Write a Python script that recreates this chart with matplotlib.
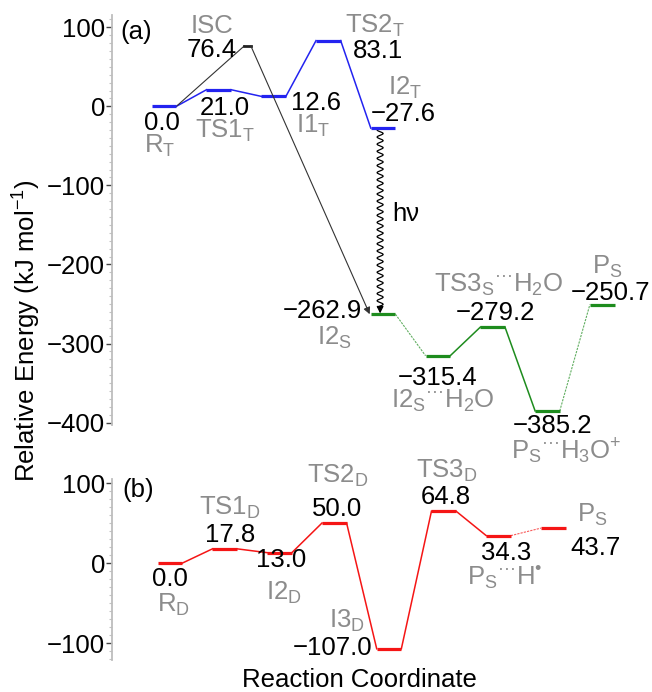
import numpy as np
import matplotlib
matplotlib.use("Agg")
import matplotlib.pyplot as plt
from matplotlib.ticker import MultipleLocator

plt.rcParams['font.family'] = ['Liberation Sans', 'DejaVu Sans']
plt.rcParams['mathtext.fontset'] = 'custom'
plt.rcParams['mathtext.rm'] = 'Liberation Sans'
plt.rcParams['mathtext.it'] = 'Liberation Sans:italic'
plt.rcParams['font.size'] = 18.5

# ---- data ----
# (a) triplet surface (blue), positions 0..4
trip_vals = [0.0, 21.0, 12.6, 83.1, -27.6]
trip_names = [r'R$_\mathregular{T}$', r'TS1$_\mathregular{T}$', r'I1$_\mathregular{T}$',
              r'TS2$_\mathregular{T}$', r'I2$_\mathregular{T}$']
# crossing point
isc_pos = 1.525
isc_val = 76.4
# (a) singlet surface (green), positions 4..8
sing_vals = [-262.9, -315.4, -279.2, -385.2, -250.7]
sing_names = [r'I2$_\mathregular{S}$',
              r'I2$_\mathregular{S}$$^\mathregular{···}$H$_\mathregular{2}$O',
              r'TS3$_\mathregular{S}$$^\mathregular{···}$H$_\mathregular{2}$O',
              r'P$_\mathregular{S}$$^\mathregular{···}$H$_\mathregular{3}$O$^\mathregular{+}$',
              r'P$_\mathregular{S}$']
sing_dashed = [True, False, False, True]
# (b) doublet surface (red), positions 0..7
doub_vals = [0.0, 17.8, 13.0, 50.0, -107.0, 64.8, 34.3, 43.7]
doub_names = [r'R$_\mathregular{D}$', r'TS1$_\mathregular{D}$', r'I2$_\mathregular{D}$',
              r'TS2$_\mathregular{D}$', r'I3$_\mathregular{D}$', r'TS3$_\mathregular{D}$',
              r'P$_\mathregular{S}$$^\mathregular{···}$H$^\mathregular{•}$', r'P$_\mathregular{S}$']
doub_dashed = [False, False, False, False, False, False, True]

# label offsets in pixels: (value dx, value dy, value ha, name dx, name dy, name ha)
trip_off = [(-2, -23.5, 'center', -4, -46.5, 'center'),
            (6, -25, 'center', 6, -48, 'center'),
            (42, -13.5, 'center', 40, -36.5, 'center'),
            (50, -17, 'center', 47, 8, 'center'),
            (20, 7, 'center', 22, 33, 'center')]
sing_off = [(-21, -3.5, 'right', -49, -30.5, 'center'),
            (0, -29, 'center', 5, -52, 'center'),
            (2.5, 7, 'center', 6.5, 35, 'center'),
            (5, -22, 'center', 19, -48, 'center'),
            (8, 5, 'center', 5, 31, 'center')]
doub_off = [(0, -23, 'center', 3, -49, 'center'),
            (5, 7, 'center', 5, 34, 'center'),
            (1.5, -14.5, 'center', 4.5, -47.5, 'center'),
            (3, 7, 'center', 4, 40, 'center'),
            (-17, -6.4, 'right', -42, 20.6, 'center'),
            (2, 7, 'center', 3, 33, 'center'),
            (7.5, -24.5, 'center', 6.5, -49.5, 'center'),
            (42, -27, 'center', 39, 6, 'center')]

GRAY = '#8c8c8c'
BLUE = '#2323f0'
GREEN = '#1e8c1e'
RED = '#f51515'
HW = 0.225  # half width of a level


def fmt(v):
    return f"{v:.1f}".replace('-', '\u2212')


def draw_path(ax, xs, vals, color, dashed):
    for i, (x, v) in enumerate(zip(xs, vals)):
        ax.plot([x - HW, x + HW], [v, v], color=color, lw=2.3, solid_capstyle='butt', zorder=3)
        if i < len(vals) - 1:
            if dashed[i]:
                ax.plot([x + HW, xs[i + 1] - HW], [v, vals[i + 1]], color=color, lw=0.8,
                        alpha=0.7, linestyle=(0, (2, 1)), zorder=2)
            else:
                ax.plot([x + HW, xs[i + 1] - HW], [v, vals[i + 1]], color=color, lw=1.1, zorder=2)


def label_path(ax, xs, vals, names, offs):
    for x, v, n, o in zip(xs, vals, names, offs):
        ax.annotate(fmt(v), (x, v), xytext=(o[0], o[1]), textcoords='offset pixels',
                    ha=o[2], va='baseline', color='black', annotation_clip=False)
        ax.annotate(n, (x, v), xytext=(o[3], o[4]), textcoords='offset pixels',
                    ha=o[5], va='baseline', color=GRAY, annotation_clip=False)


def style_axis(ax):
    for s in ['top', 'right', 'bottom']:
        ax.spines[s].set_visible(False)
    ax.spines['left'].set_color('#bdbdbd')
    ax.spines['left'].set_linewidth(1.3)
    ax.set_xticks([])
    ax.yaxis.set_major_locator(MultipleLocator(100))
    ax.yaxis.set_minor_locator(MultipleLocator(10))
    ax.tick_params(axis='y', which='major', direction='out', length=4, width=1,
                   color='#444444', pad=1, labelsize=18.5)
    ax.tick_params(axis='y', which='minor', direction='out', length=2.5, width=0.8,
                   color='#c4c4c4')


fig = plt.figure(figsize=(6.52, 6.92), dpi=100)
ax1 = fig.add_axes([112 / 652, 1 - 425 / 692, 528 / 652, 410 / 692])
ax2 = fig.add_axes([112 / 652, 1 - 660 / 692, 528 / 652, 181 / 692])

# ---- panel (a) ----
trip_x = list(range(len(trip_vals)))
sing_x = list(range(4, 4 + len(sing_vals)))
draw_path(ax1, trip_x, trip_vals, BLUE, [False] * 4)
draw_path(ax1, sing_x, sing_vals, GREEN, sing_dashed)
label_path(ax1, trip_x, trip_vals, trip_names, trip_off)
label_path(ax1, sing_x, sing_vals, sing_names, sing_off)

# intersystem crossing route
ax1.plot([trip_x[0] + HW, isc_pos - 0.06], [trip_vals[0], isc_val], color='#333333', lw=0.8)
ax1.plot([isc_pos - 0.06, isc_pos + 0.06], [isc_val, isc_val], color='#222222', lw=2)
ax1.annotate('', xy=(sing_x[0] - HW - 0.02, sing_vals[0]), xytext=(isc_pos + 0.06, isc_val),
             arrowprops=dict(arrowstyle='-|>', color='#333333', lw=0.8,
                             mutation_scale=10, shrinkA=0, shrinkB=0))
ax1.annotate(fmt(isc_val), (isc_pos, isc_val), xytext=(-10.5, -11), textcoords='offset pixels',
             ha='right', va='baseline')
ax1.annotate('ISC', (isc_pos, isc_val), xytext=(-35.5, 13), textcoords='offset pixels',
             ha='center', va='baseline', color=GRAY)

# wavy h-nu arrow from I2_T down to I2_S
wx = trip_x[4] - 0.055
y_top, y_bot = trip_vals[4], sing_vals[0] + 9
yy = np.linspace(y_top, y_bot, 600)
xx = wx + 0.055 * np.sin(2 * np.pi * (yy - y_top) / 9.0)
ax1.plot(xx, yy, color='black', lw=0.9)
ax1.annotate('', xy=(wx, sing_vals[0] + 1), xytext=(wx, y_bot + 1),
             arrowprops=dict(arrowstyle='-|>', color='black', lw=0.9,
                             mutation_scale=10, shrinkA=0, shrinkB=0))
ax1.annotate('h\u03bd', (wx, -137), xytext=(12, -6), textcoords='offset pixels',
             ha='left', va='baseline')

ax1.set_xlim(-0.95, 8.69)
ax1.set_ylim(-403, 115.5)
style_axis(ax1)

# ---- panel (b) ----
doub_x = list(range(len(doub_vals)))
draw_path(ax2, doub_x, doub_vals, RED, doub_dashed)
label_path(ax2, doub_x, doub_vals, doub_names, doub_off)
ax2.set_xlim(-1.06, 8.584)
ax2.set_ylim(-121, 105)
style_axis(ax2)

fig.text(120 / 652, 1 - 32 / 692, '(a)', ha='left', va='center')
fig.text(122 / 652, 1 - 490 / 692, '(b)', ha='left', va='center')
fig.text(27 / 652, 1 - 331 / 692, r'Relative Energy (kJ mol$^{\mathregular{-1}}$)',
         rotation=90, ha='center', va='center')
fig.text(359 / 652, 1 - 687 / 692, 'Reaction Coordinate', ha='center', va='baseline')

fig.savefig('out.png', dpi=100)
